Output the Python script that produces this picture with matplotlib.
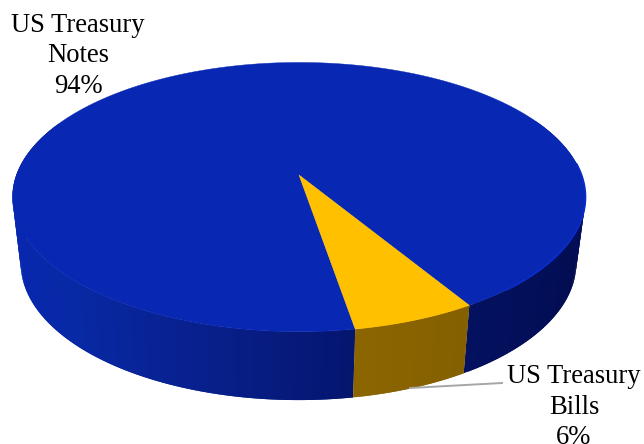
import numpy as np
import matplotlib
matplotlib.use('Agg')
import matplotlib.pyplot as plt
from matplotlib.collections import PolyCollection
from matplotlib.colors import to_rgb

# holdings share
names = ['US Treasury\nNotes', 'US Treasury\nBills']
shares = [94, 6]
top_colors = ['#0828b4', '#ffc000']

# pie geometry in pixel units
persp = 0.164
cx_top, cy_top, ax_top, by_top = 299.0, 175.0, 282.6, 131.0
cx_low, cy_low, ax_low, by_low = 298.5, 241.0, 274.0, 133.0
start_deg = -80.4 + 21.6 - 360.0  # notes slice runs up to the front edge of the bills


def project(theta, cx, cy, ax_len, by_len):
    # circle seen in perspective, far side compressed
    x, y = np.cos(theta), np.sin(theta)
    w = 1 + persp * y
    return cx + ax_len * x / w, cy - by_len * y / w


def side_color(deg, i):
    # wall shading by angle, bright on the left and dark on the right
    deg = ((deg + 180) % 360) - 180
    if i == 1:
        keys = [-90, -60]
        cols = ['#8f6800', '#856000']
    else:
        keys = [-180, -135, -104, -82, -60, -20, 0]
        cols = ['#0825b8', '#0829a5', '#081f8a', '#051670', '#03115f', '#020c50', '#030f5c']
    rgb = np.array([to_rgb(c) for c in cols])
    return [np.interp(deg, keys, rgb[:, k]) for k in range(3)]


fig = plt.figure(figsize=(6.44, 4.44), dpi=100)
ax = fig.add_axes([0, 0, 1, 1])
ax.set_xlim(0, 644)
ax.set_ylim(444, 0)
ax.axis('off')

# spans of each slice from the values
spans = []
a0 = start_deg
for s in shares:
    a1 = a0 + 360.0 * s / sum(shares)
    spans.append((a0, a1))
    a0 = a1

# outer wall, split into narrow strips so the shading can vary
polys, cols = [], []
step = 1.0
for i, (a0, a1) in enumerate(spans):
    edges = np.arange(a0, a1 + step, step)
    edges[-1] = a1
    for e0, e1 in zip(edges[:-1], edges[1:]):
        mid = 0.5 * (e0 + e1)
        wrapped = ((mid + 180) % 360) - 180
        if 25 < wrapped < 155:
            continue
        # each strip overlaps the next one to hide the seams
        t = np.radians([e0, min(e1 + step, a1)])
        xt, yt = project(t, cx_top, cy_top, ax_top, by_top)
        xb, yb = project(t, cx_low, cy_low, ax_low, by_low)
        polys.append(np.column_stack([[xt[0], xt[1], xb[1], xb[0]],
                                      [yt[0], yt[1], yb[1], yb[0]]]))
        cols.append(side_color(mid, i))
ax.add_collection(PolyCollection(polys, facecolors=cols, edgecolors='none', zorder=1))

# top face
for (a0, a1), c in zip(spans, top_colors):
    t = np.radians(np.linspace(a0, a1, 400))
    x, y = project(t, cx_top, cy_top, ax_top, by_top)
    ax.fill(np.r_[cx_top, x], np.r_[cy_top, y], color=c, lw=0.3, zorder=2)

# lighter rim on the right of the notes slice
t = np.radians(np.linspace(-50, 5, 100))
x, y = project(t, cx_top, cy_top, ax_top, by_top)
ax.plot(x, y, color='#0a2ccc', lw=1.2, zorder=3)

# leader to the bills label
ax.plot([410, 502], [388, 383], color='#a6a6a6', lw=1.4, zorder=3)

labels = [f'{n}\n{s}%' for n, s in zip(names, shares)]
label_font = dict(family='Liberation Serif', fontsize=19.2, ha='center', va='center',
                  color='black', linespacing=1.3, zorder=4)
ax.text(78, 56, labels[0], **label_font)
ax.text(574, 407, labels[1], **label_font)

fig.savefig('out.png', dpi=100)
